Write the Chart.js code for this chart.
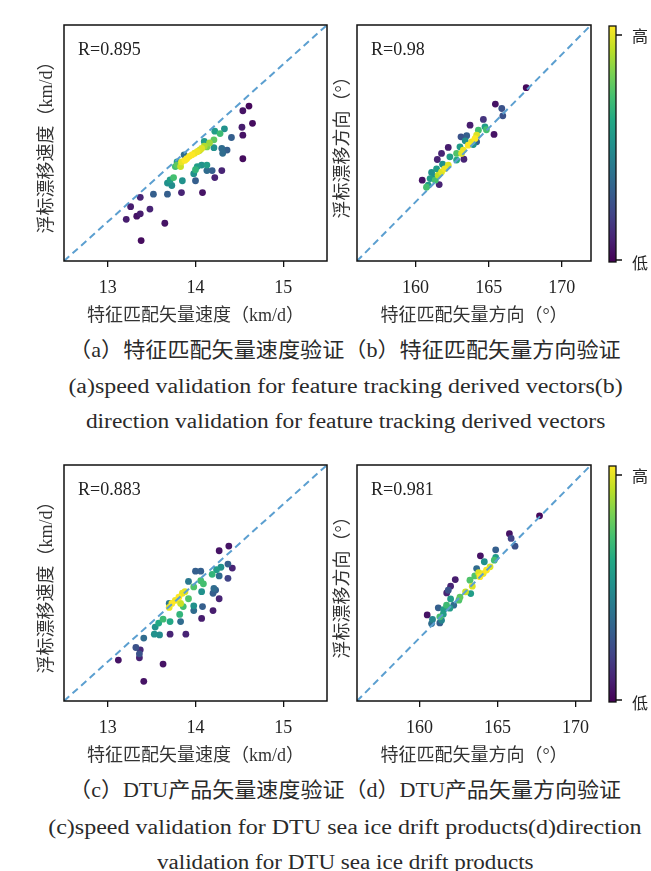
<!DOCTYPE html>
<html><head><meta charset="utf-8">
<script src="https://cdn.jsdelivr.net/npm/chart.js@4/dist/chart.umd.min.js"></script>
<style>
body{margin:0;width:651px;height:871px;background:#fff;position:relative;overflow:hidden;}
canvas{position:absolute;}
.cap{position:absolute;white-space:nowrap;color:#2a2a2a;font-family:"Liberation Serif","Noto Sans CJK SC",serif;font-weight:normal;line-height:1;transform-origin:50% 50%;}
</style></head><body>
<canvas id="cA" width="335" height="335" style="left:0;top:0"></canvas>
<canvas id="cB" width="321" height="335" style="left:330px;top:0"></canvas>
<canvas id="cC" width="335" height="335" style="left:0;top:440px"></canvas>
<canvas id="cD" width="321" height="335" style="left:330px;top:440px"></canvas>
<div id="caps"></div>
<script>
// ---------- data ----------
const speedTicks = [13, 14, 15];
const dirTicks = [160, 165, 170];
const rLabels = ["R=0.895", "R=0.98", "R=0.883", "R=0.981"];
const xTitles = ["特征匹配矢量速度（km/d）", "特征匹配矢量方向（°）"];
const yTitles = ["浮标漂移速度（km/d）", "浮标漂移方向（°）"];
const cbLabels = ["高", "低"];

// (a) feature tracking speed
const aX = [14.61,14.54,14.65,14.53,14.54,14.54,14.41,14.33,14.28,14.22,14.21,14.21,14.30,14.36,14.31,14.10,14.13,14.07,14.02,13.96,13.90,13.84,13.79,13.83,13.87,13.79,14.05,14.13,14.07,14.02,13.98,14.00,14.19,14.13,14.30,14.22,14.00,13.85,13.75,13.71,13.68,13.73,13.77,13.52,13.68,13.84,14.08,13.37,13.26,13.48,13.37,13.33,13.21,13.65,13.38,13.88,13.93,13.99,14.04,14.10,14.16];
const aY = [14.47,14.41,14.25,14.20,14.10,13.80,14.07,14.18,14.12,14.15,14.04,13.94,13.93,13.91,13.87,14.02,13.95,13.93,13.89,13.85,13.80,13.76,13.72,13.70,13.85,13.76,13.91,13.72,13.72,13.70,13.61,13.66,13.65,13.65,13.65,13.56,13.52,13.52,13.56,13.53,13.49,13.46,13.70,13.35,13.35,13.37,13.37,13.31,13.19,13.16,13.10,13.07,13.03,12.98,12.76,13.78,13.83,13.87,13.90,13.96,14.00];
const aD = [0.02,0.05,0.03,0.08,0.05,0.03,0.30,0.50,0.68,0.55,0.75,0.50,0.35,0.30,0.35,0.55,0.80,0.95,0.98,1.00,1.00,0.97,0.75,0.92,0.35,0.55,0.85,0.55,0.50,0.55,0.50,0.65,0.30,0.35,0.10,0.10,0.30,0.50,0.70,0.55,0.50,0.48,0.70,0.30,0.30,0.10,0.05,0.10,0.08,0.10,0.08,0.05,0.08,0.05,0.03,1.00,0.99,0.97,0.93,0.88,0.85];

// (b) feature tracking direction
const bX = [167.57,165.46,165.90,165.97,164.64,165.37,164.75,164.85,163.73,164.30,164.18,164.07,163.84,163.61,163.27,163.15,163.11,163.50,163.40,163.04,164.18,163.95,162.24,162.81,163.31,162.35,161.78,161.49,161.85,162.24,162.00,161.78,161.55,161.44,161.10,161.00,161.35,160.87,160.75,160.46,161.62,161.30,162.81];
const bY = [167.75,166.64,166.34,165.84,165.60,164.58,165.10,164.90,165.21,164.87,164.53,164.30,164.08,163.85,163.51,163.29,164.42,164.50,164.15,163.74,164.08,163.90,163.70,162.84,162.90,163.06,163.29,162.88,162.56,162.50,162.25,162.04,161.82,162.25,162.00,161.59,161.48,161.14,161.00,161.48,161.18,161.70,163.29];
const bD = [0.02,0.05,0.25,0.25,0.15,0.05,0.55,0.70,0.08,0.70,0.95,1.00,0.98,1.00,0.97,0.95,0.25,0.30,0.50,0.55,0.30,0.50,0.08,0.60,0.10,0.55,0.10,0.10,0.50,0.95,0.98,0.95,0.90,0.55,0.50,0.55,0.70,0.55,0.70,0.05,0.10,0.50,0.72];

// (c) DTU speed
const cX = [14.38,14.27,14.37,14.42,14.29,14.24,14.19,14.27,14.37,14.00,14.06,13.92,14.06,14.09,13.98,14.07,14.21,14.23,14.20,14.27,13.88,13.85,13.81,13.77,13.73,13.70,13.83,13.92,13.86,13.82,13.70,13.98,13.98,14.08,14.20,14.07,13.83,13.71,13.63,13.58,13.54,13.53,13.59,13.71,13.89,13.41,13.32,13.37,13.36,13.36,13.12,13.63,13.41];
const cY = [14.47,14.41,14.24,14.19,14.20,14.17,14.11,14.09,14.06,14.15,14.15,14.02,14.03,13.99,13.95,13.89,13.93,13.91,13.87,13.80,13.89,13.87,13.82,13.78,13.74,13.69,13.74,13.80,13.70,13.60,13.74,13.71,13.65,13.70,13.65,13.55,13.51,13.51,13.54,13.49,13.44,13.35,13.34,13.35,13.35,13.30,13.18,13.15,13.10,13.05,13.02,12.97,12.75];
const cD = [0.05,0.05,0.30,0.10,0.50,0.55,0.65,0.35,0.20,0.30,0.30,0.40,0.70,0.70,0.72,0.50,0.35,0.30,0.30,0.10,0.95,0.97,1.00,0.98,1.00,0.97,0.92,0.72,0.70,0.65,0.40,0.50,0.35,0.30,0.08,0.08,0.35,0.60,0.68,0.60,0.50,0.50,0.48,0.10,0.10,0.35,0.25,0.12,0.25,0.10,0.05,0.05,0.05];

// (d) DTU direction
const dX = [167.70,165.77,165.88,166.13,164.89,163.91,164.89,164.80,164.16,163.67,164.53,164.30,164.09,163.88,163.55,163.80,163.24,163.39,162.96,163.29,162.30,162.00,161.85,161.75,162.00,162.53,162.60,161.74,161.95,161.55,161.21,161.53,161.31,161.42,160.84,161.31,160.78,160.50,162.20];
const dY = [167.77,166.63,166.33,165.84,165.61,165.23,165.12,164.95,164.85,164.42,164.53,164.32,164.10,163.90,163.95,164.15,163.68,163.30,162.94,162.83,163.72,163.30,163.04,162.87,162.49,162.41,162.60,162.09,161.90,161.80,161.92,161.52,161.35,161.13,161.18,160.96,160.92,161.47,162.09];
const dD = [0.02,0.05,0.20,0.25,0.30,0.05,0.55,0.70,0.50,0.35,0.95,1.00,0.98,1.00,0.72,0.95,0.72,0.95,0.92,0.55,0.08,0.10,0.25,0.10,0.55,0.72,0.75,0.68,0.55,0.55,0.30,0.55,0.70,0.45,0.45,0.30,0.35,0.05,0.35];

// ---------- helpers ----------
const VIRIDIS = ['#440154','#482475','#414487','#355f8d','#2a788e','#21918c','#22a884','#44bf70','#7ad151','#bddf26','#fde725'];
function hx(h){return [parseInt(h.slice(1,3),16),parseInt(h.slice(3,5),16),parseInt(h.slice(5,7),16)];}
function viridis(t){
  t=Math.max(0,Math.min(1,t));const n=VIRIDIS.length-1;const i=Math.min(Math.floor(t*n),n-1);const f=t*n-i;
  const a=hx(VIRIDIS[i]),b=hx(VIRIDIS[i+1]);
  return 'rgb('+a.map((v,k)=>Math.round(v+(b[k]-v)*f)).join(',')+')';
}
const SERIF = '"Liberation Serif","Noto Sans CJK SC",serif';

const framePlugin = {id:'frame', afterDraw(chart){
  const {ctx, chartArea:a} = chart; ctx.save(); ctx.strokeStyle='#111'; ctx.lineWidth=1.5;
  ctx.strokeRect(a.left, a.top, a.right-a.left, a.bottom-a.top); ctx.restore();
}};
const rPlugin = {id:'rlabel', afterDraw(chart, args, opts){
  const {ctx, chartArea:a} = chart; ctx.save(); ctx.fillStyle='#222'; ctx.font='18px '+SERIF;
  ctx.textBaseline='middle'; ctx.textAlign='left'; ctx.fillText(opts.text, a.left+14, a.top+25); ctx.restore();
}};
const cbPlugin = {id:'cbar', afterDraw(chart, args, opts){
  if(!opts.show) return;
  const {ctx, chartArea:a} = chart; const x=a.right+18, w=7, top=a.top+1, bot=a.bottom+1;
  ctx.save();
  const g = ctx.createLinearGradient(0,bot,0,top);
  VIRIDIS.forEach((c,i)=>g.addColorStop(i/(VIRIDIS.length-1),c));
  ctx.fillStyle=g; ctx.fillRect(x,top,w,bot-top);
  ctx.strokeStyle='#111'; ctx.lineWidth=1.3; ctx.strokeRect(x,top,w,bot-top);
  const t1=top+9, t2=bot-2;
  ctx.beginPath(); ctx.moveTo(x+w,t1); ctx.lineTo(x+w+6,t1); ctx.moveTo(x+w,t2); ctx.lineTo(x+w+6,t2); ctx.stroke();
  ctx.fillStyle='#222'; ctx.font='16px "Noto Sans CJK SC",sans-serif'; ctx.textAlign='center'; ctx.textBaseline='middle';
  ctx.fillText(cbLabels[0], x+w+24, t1+1); ctx.fillText(cbLabels[1], x+w+24, t2+3);
  ctx.restore();
}};

function panel(id, xs, ys, ds, lo, hi, xticks, xTitle, yTitle, r, yLeftW, padRight, yTitlePad, bar){
  const idx = xs.map((_,i)=>i).sort((p,q)=>ds[p]-ds[q]);
  const pts = idx.map(i=>({x:xs[i], y:ys[i]}));
  const cols = idx.map(i=>viridis(ds[i]));
  new Chart(document.getElementById(id), {
    type:'scatter',
    data:{datasets:[
      {type:'line', data:[{x:lo,y:lo},{x:hi,y:hi}], borderColor:'#5b9fd0', borderWidth:2, borderDash:[7,4.5], pointRadius:0, order:0},
      {data:pts, backgroundColor:cols, borderWidth:0, pointRadius:3.4, order:1}
    ]},
    options:{responsive:false, animation:false, devicePixelRatio:1,
      layout:{padding:{top:25,right:padRight,left:0,bottom:0}, autoPadding:false},
      plugins:{legend:{display:false}, tooltip:{enabled:false}, rlabel:{text:r}, cbar:{show:bar}},
      scales:{
        x:{type:'linear', min:lo, max:hi,
           afterBuildTicks:s=>{s.ticks=xticks.map(v=>({value:v}));},
           afterFit:s=>{s.height=74;},
           ticks:{font:{family:SERIF,size:18}, color:'#222', padding:10, maxRotation:0},
           grid:{display:true, drawOnChartArea:false, drawTicks:true, tickLength:6, color:'#111', lineWidth:1.3},
           border:{display:false},
           title:{display:true, text:xTitle, font:{family:SERIF,size:18,lineHeight:1.2}, color:'#333', padding:{top:0,bottom:7.7}}},
        y:{type:'linear', min:lo, max:hi,
           afterFit:s=>{s.width=yLeftW;},
           ticks:{display:false}, grid:{display:false}, border:{display:false},
           title:{display:true, text:yTitle, font:{family:SERIF,size:18,lineHeight:1.2}, color:'#333', padding:{top:yTitlePad,bottom:0}}}
      }
    },
    plugins:[framePlugin, rPlugin, cbPlugin]
  });
}

panel('cA', aX, aY, aD, 12.5, 15.5, speedTicks, xTitles[0], yTitles[0], rLabels[0], 64, 8, 36.2, false);
panel('cB', bX, bY, bD, 156, 172, dirTicks, xTitles[1], yTitles[1], rLabels[1], 27, 60, 2.2, true);
panel('cC', cX, cY, cD, 12.5, 15.5, speedTicks, xTitles[0], yTitles[0], rLabels[2], 64, 8, 36.2, false);
panel('cD', dX, dY, dD, 156, 171, dirTicks, xTitles[1], yTitles[1], rLabels[3], 27, 60, 2.2, true);

// ---------- captions ----------
const captions = [
  ["（a）特征匹配矢量速度验证（b）特征匹配矢量方向验证", 350, 21, 552],
  ["(a)speed validation for feature tracking derived vectors(b)", 386, 20, 554],
  ["direction validation for feature tracking derived vectors", 421, 20, 519],
  ["（c）DTU产品矢量速度验证（d）DTU产品矢量方向验证", 790, 21, 552],
  ["(c)speed validation for DTU sea ice drift products(d)direction", 827, 20, 594],
  ["validation for DTU sea ice drift products", 862, 20, 377]
];
const capBox = document.getElementById('caps');
captions.forEach(([t, cy, fs, w])=>{
  const s = document.createElement('span'); s.className='cap'; s.textContent=t; s.style.fontSize=fs+'px';
  capBox.appendChild(s);
  const bw = s.offsetWidth, bh = s.offsetHeight;
  s.style.left = (345 - bw/2)+'px'; s.style.top = (cy - bh/2)+'px';
  s.style.transform = 'scaleX('+(w/bw).toFixed(3)+')';
});
</script>
</body></html>
